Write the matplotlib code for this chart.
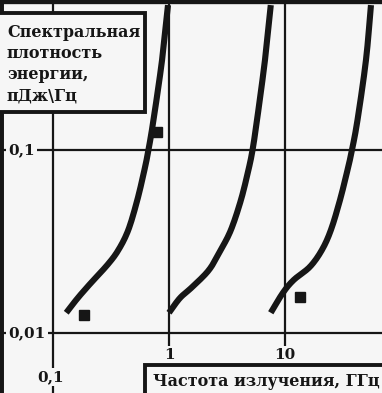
import matplotlib
matplotlib.use("Agg")
import numpy as np
import matplotlib.pyplot as plt
from matplotlib.patches import Rectangle

# --- data (log-log) ---
curve1_x = [0.98, 0.871, 0.735, 0.665, 0.614, 0.533, 0.446, 0.366, 0.295, 0.211, 0.163, 0.130]
curve1_y = [0.619, 0.310, 0.146, 0.100, 0.0778, 0.0533, 0.0366, 0.0284, 0.0236, 0.0187, 0.0155, 0.0129]

curve2_x = [7.54, 6.72, 5.74, 5.25, 4.84, 4.17, 3.42, 2.79, 2.21, 1.58, 1.24, 1.00]
curve2_y = [0.619, 0.310, 0.146, 0.100, 0.0778, 0.0533, 0.0366, 0.0284, 0.0221, 0.0178, 0.0155, 0.0129]

curve3_x = [55.1, 49.9, 42.2, 37.8, 34.6, 29.8, 24.9, 20.8, 16.4, 11.9, 9.61, 7.54]
curve3_y = [0.619, 0.310, 0.146, 0.100, 0.0778, 0.0533, 0.0366, 0.0284, 0.0230, 0.0195, 0.0166, 0.0129]

points_x = [0.789, 0.185, 13.4]
points_y = [0.125, 0.0125, 0.0157]

x_grid = [0.1, 1, 10]
x_tick_labels = ["0,1", "1", "10"]
y_grid = [0.1, 0.01]
y_tick_labels = ["0,1", "0,01"]

ylabel = "Спектральная\nплотность\nэнергии,\nпДж\\Гц"
xlabel = "Частота излучения, ГГц"

ink = "#161616"
paper = "#f6f6f6"
font = dict(family="DejaVu Serif", weight="bold", color=ink)


def smooth_loglog(xs, ys, n=12):
    # Catmull-Rom through the read points, in log space, only to draw the line smoothly
    lx, ly = np.log10(xs), np.log10(ys)
    px = np.concatenate([[2 * lx[0] - lx[1]], lx, [2 * lx[-1] - lx[-2]]])
    py = np.concatenate([[2 * ly[0] - ly[1]], ly, [2 * ly[-1] - ly[-2]]])
    t = np.linspace(0, 1, n, endpoint=False)
    outx, outy = [], []
    for i in range(1, len(px) - 2):
        for p, out in ((px, outx), (py, outy)):
            p0, p1, p2, p3 = p[i - 1], p[i], p[i + 1], p[i + 2]
            out.extend(0.5 * (2 * p1 + (-p0 + p2) * t + (2 * p0 - 5 * p1 + 4 * p2 - p3) * t ** 2
                              + (-p0 + 3 * p1 - 3 * p2 + p3) * t ** 3))
    outx.append(lx[-1])
    outy.append(ly[-1])
    return 10 ** np.array(outx), 10 ** np.array(outy)


fig = plt.figure(figsize=(3.82, 3.93), dpi=100, facecolor=paper)
ax = fig.add_axes([0, 0, 1, 1])
ax.set_facecolor(paper)
ax.set_xscale("log")
ax.set_yscale("log")
ax.set_xlim(0.0349, 68.6)
ax.set_ylim(0.0047, 0.66)
ax.set_xticks([])
ax.set_yticks([])
ax.minorticks_off()

for s in ["bottom", "right"]:
    ax.spines[s].set_visible(False)
ax.spines["top"].set_linewidth(6)
ax.spines["left"].set_linewidth(5)
ax.spines["top"].set_color(ink)
ax.spines["left"].set_color(ink)

# grid lines
for gx in x_grid:
    ax.axvline(gx, color=ink, lw=1.6, zorder=1)
for gy in y_grid:
    ax.axhline(gy, color=ink, lw=1.6, zorder=1)

# curves and points
for cx, cy in [(curve1_x, curve1_y), (curve2_x, curve2_y), (curve3_x, curve3_y)]:
    sx, sy = smooth_loglog(cx, cy)
    ax.plot(sx, sy, color=ink, lw=4.4, solid_capstyle="butt", zorder=3)
ax.plot(points_x, points_y, "s", color=ink, ms=7, zorder=4)

# tick labels, drawn on patches that cut the grid lines
lbl_box = dict(facecolor=paper, edgecolor="none", pad=1.5)
for gy, lab in zip(y_grid, y_tick_labels):
    ax.text(0.022, gy, lab, transform=ax.get_yaxis_transform(), ha="left", va="center",
            fontsize=11, bbox=lbl_box, zorder=2, **font)
x_label_y = [0.00575, 0.0076, 0.0076]
for gx, ly, lab in zip(x_grid, x_label_y, x_tick_labels):
    ax.text(gx * 0.96 if lab == "0,1" else gx, ly, lab, ha="center", va="center", fontsize=11,
            bbox=lbl_box, zorder=2, **font)

# framed axis titles
ax.add_patch(Rectangle((-0.02, 0.715), 0.4, 0.252, transform=ax.transAxes, facecolor=paper,
                       edgecolor=ink, lw=2.8, zorder=5, clip_on=False))
ax.text(0.018, 0.939, ylabel, transform=ax.transAxes, ha="left", va="top", fontsize=11.5,
        linespacing=1.32, zorder=6, **font)

ax.add_patch(Rectangle((0.38, -0.02), 0.64, 0.091, transform=ax.transAxes, facecolor=paper,
                       edgecolor=ink, lw=2.8, zorder=5, clip_on=False))
ax.text(0.4, 0.03, xlabel, transform=ax.transAxes, ha="left", va="center", fontsize=11.5,
        zorder=6, **font)

fig.savefig("out.png", dpi=100, facecolor=paper)
